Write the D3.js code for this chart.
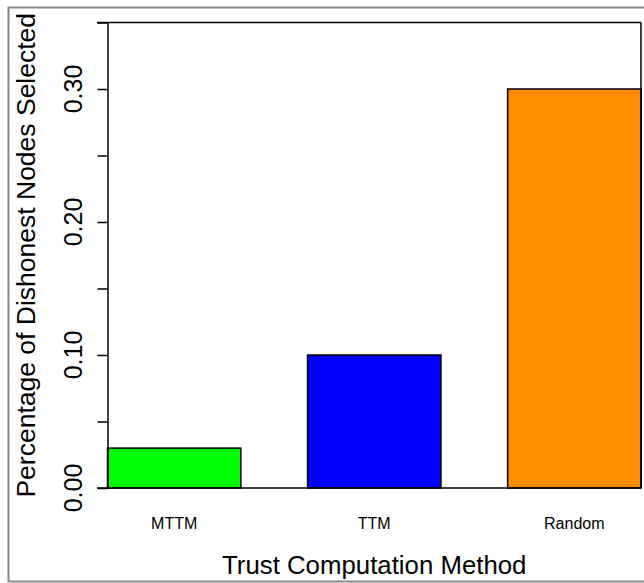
<!DOCTYPE html>
<html>
<head>
<meta charset="utf-8">
<script src="https://cdn.jsdelivr.net/npm/d3@7"></script>
<style>
  body { margin: 0; background: #fff; }
  text { font-family: "Liberation Sans", Arial, sans-serif; fill: #000; }
</style>
</head>
<body>
<div class="c_chart"></div>
<script>
/* data */
const methods = ["MTTM", "TTM", "Random"];
const dishonestShare = [0.03, 0.10, 0.30];
const barColors = ["#00ff00", "#0000ff", "#ff8c00"];
const yTicks = [0, 0.05, 0.10, 0.15, 0.20, 0.25, 0.30, 0.35];
const yLabelTicks = [0, 0.10, 0.20, 0.30];

/* svg */
let width = 644;
let height = 583;
let svg = d3.select(".c_chart")
	.append("svg")
	.attr("width", width)
	.attr("height", height);

// grey frame round the picture (no right side)
svg.append("path")
	.attr("d", "M644,7.5 H8.5 V581.5 H644")
	.attr("fill", "none")
	.attr("stroke", "#888")
	.attr("stroke-width", 2);

const plot = {left: 107.5, right: 641, top: 22.5, bottom: 488};

let x = d3.scaleBand()
	.domain(methods)
	.range([plot.left, plot.right])
	.paddingInner(1/3)
	.paddingOuter(0);

let y = d3.scaleLinear()
	.domain([0, 0.35])
	.range([plot.bottom, plot.top]);

/* bars */
svg.append("g")
	.selectAll("rect")
	.data(methods)
	.enter()
	.append("rect")
	.attr("x", d => x(d))
	.attr("y", (d, i) => y(dishonestShare[i]))
	.attr("width", x.bandwidth())
	.attr("height", (d, i) => y(0) - y(dishonestShare[i]))
	.attr("fill", (d, i) => barColors[i])
	.attr("stroke", "#000")
	.attr("stroke-width", 1.5);

/* y axis */
let yAxis = svg.append("g")
	.attr("transform", `translate(${plot.left},0)`)
	.call(d3.axisLeft(y).tickValues(yTicks).tickSize(10).tickSizeOuter(0).tickFormat(""));
yAxis.selectAll("line, path").attr("stroke", "#000").attr("stroke-width", 1.5);

svg.append("g")
	.selectAll("text")
	.data(yLabelTicks)
	.enter()
	.append("text")
	.attr("transform", d => `translate(82,${y(d)}) rotate(-90)`)
	.attr("text-anchor", "middle")
	.attr("font-size", 25)
	.text(d => d3.format(".2f")(d));

/* horizontal lines at 0 and top, right side */
[0, 0.35].forEach(v => {
	svg.append("line")
		.attr("x1", 97).attr("x2", plot.right)
		.attr("y1", y(v)).attr("y2", y(v))
		.attr("stroke", "#000").attr("stroke-width", 1.5);
});
svg.append("line")
	.attr("x1", plot.right).attr("x2", plot.right)
	.attr("y1", plot.top).attr("y2", plot.bottom)
	.attr("stroke", "#000").attr("stroke-width", 1.5);

/* x labels */
svg.append("g")
	.selectAll("text")
	.data(methods)
	.enter()
	.append("text")
	.attr("x", d => x(d) + x.bandwidth()/2)
	.attr("y", 529)
	.attr("text-anchor", "middle")
	.attr("font-size", 16)
	.text(d => d);

/* axis titles */
svg.append("text")
	.attr("x", (plot.left + plot.right)/2)
	.attr("y", 574)
	.attr("text-anchor", "middle")
	.attr("font-size", 25.8)
	.text("Trust Computation Method");

svg.append("text")
	.attr("transform", `translate(35,${(plot.top + plot.bottom)/2}) rotate(-90)`)
	.attr("text-anchor", "middle")
	.attr("font-size", 26.5)
	.text("Percentage of Dishonest Nodes Selected");
</script>
</body>
</html>
